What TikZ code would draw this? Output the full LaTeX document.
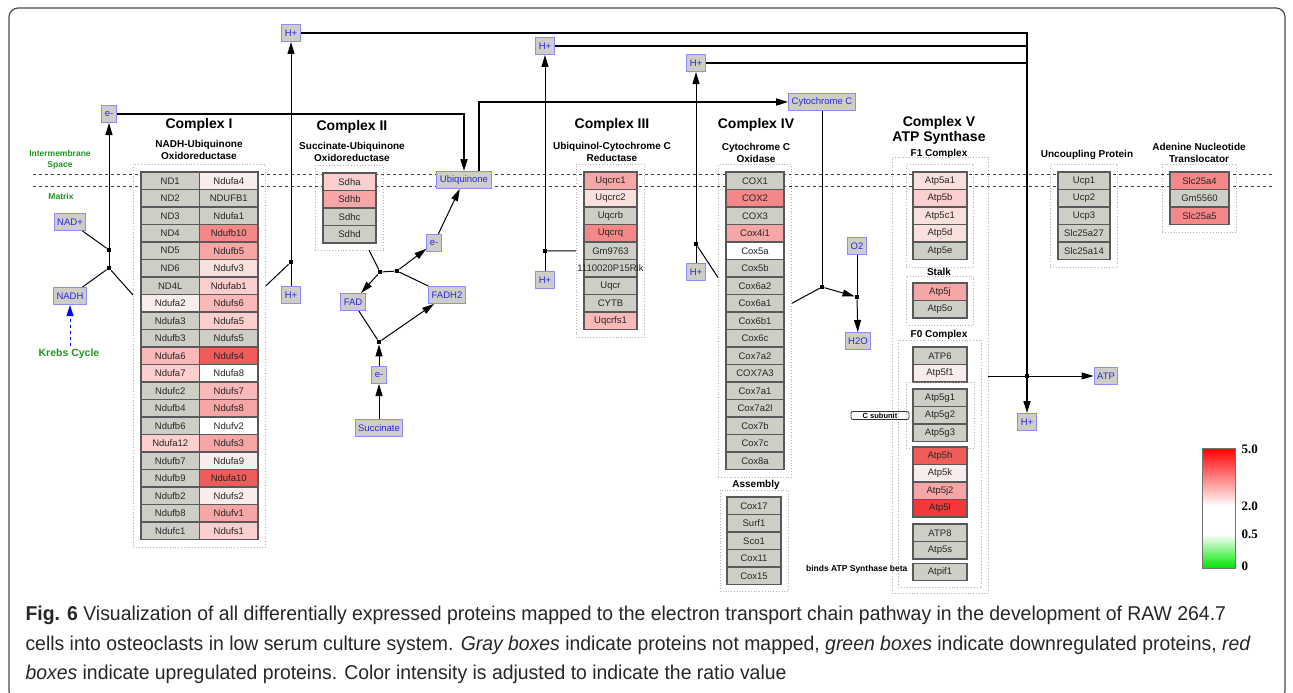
\documentclass[tikz,border=0pt]{standalone}
\usepackage{fontspec}
\setmainfont{Liberation Sans}
\newfontfamily\capfont[FakeStretch=0.97]{Liberation Sans}
\newfontfamily\numfont{Liberation Serif}
\usepackage{xcolor}
\usetikzlibrary{arrows.meta,fit,positioning}

\definecolor{cg}{RGB}{206,206,198}
\definecolor{r1}{RGB}{248,236,236}
\definecolor{r2}{RGB}{249,224,220}
\definecolor{r3}{RGB}{252,206,206}
\definecolor{r4}{RGB}{250,184,184}
\definecolor{r5}{RGB}{246,166,166}
\definecolor{r6}{RGB}{244,136,136}
\definecolor{r7}{RGB}{240,92,90}
\definecolor{r8}{RGB}{242,56,56}
\definecolor{zone}{RGB}{30,150,30}
\definecolor{metblue}{RGB}{40,40,225}

\tikzset{
  prot/.style={draw=black!65, line width=1.1pt, fill=cg, minimum height=17.5pt, inner sep=0pt,
    font=\fontsize{9.5}{10}\selectfont, text=black!85},
  met/.style={draw=blue!45, line width=1pt, fill=cg, text=metblue, inner xsep=3pt, inner ysep=0pt,
    minimum height=17pt, font=\fontsize{9.5}{10}\selectfont},
  grp/.style={draw=black!30, dotted, line width=0.8pt},
  jn/.style={fill=black, inner sep=0pt, minimum size=4.5pt},
  ttl/.style={font=\bfseries\fontsize{14}{15}\selectfont, align=center},
  sub/.style={font=\bfseries\fontsize{10}{12.5}\selectfont, align=center},
  zonelbl/.style={font=\bfseries\fontsize{8.5}{11}\selectfont, text=zone, align=center},
  arr/.style={-{Triangle[length=12pt,width=7pt]}},
  wire/.style={line width=1pt},
  bus/.style={line width=1.6pt},
  captxt/.style={anchor=base west, font=\capfont\fontsize{20}{22}\selectfont, text=black!85},
}

\begin{document}
\begin{tikzpicture}[x=1pt,y=-1pt]
\useasboundingbox (0,0) rectangle (1293,693);
\draw[black!70, line width=1.2pt, rounded corners=9pt] (9,8) rectangle (1285,700);

\draw[dashed, black!75, line width=0.8pt] (33,174) -- (1275,174);
\draw[dashed, black!75, line width=0.8pt] (33,186.5) -- (1275,186.5);

\node[zonelbl] (ims) at (60,160) {Intermembrane\\Space};
\node[zonelbl] (mtx) at (61,196) {Matrix};

% Complex I
\node[ttl] (t1) at (199,125) {Complex I};
\node[sub] (s1) at (199,150) {NADH-Ubiquinone\\Oxidoreductase};
\foreach \t/\c [count=\i] in {ND1/cg, ND2/cg, ND3/cg, ND4/cg, ND5/cg, ND6/cg, ND4L/cg, Ndufa2/r1,
    Ndufa3/cg, Ndufb3/cg, Ndufa6/r4, Ndufa7/r3, Ndufc2/cg, Ndufb4/cg, Ndufb6/cg, Ndufa12/r3,
    Ndufb7/cg, Ndufb9/cg, Ndufb2/cg, Ndufb8/cg, Ndufc1/cg}
  \node[prot, fill=\c, minimum width=58.5pt] (ci-a\i) at (170.25,{163.25+17.5*\i}) {\t};
\foreach \t/\c [count=\i] in {Ndufa4/r1, NDUFB1/cg, Ndufa1/cg, Ndufb10/r6, Ndufb5/r5, Ndufv3/r2,
    Ndufab1/r3, Ndufs6/r4, Ndufa5/r3, Ndufs5/cg, Ndufs4/r7, Ndufa8/white, Ndufs7/r4, Ndufs8/r5,
    Ndufv2/white, Ndufs3/r5, Ndufa9/r1, Ndufa10/r7, Ndufs2/r1, Ndufv1/r5, Ndufs1/r3}
  \node[prot, fill=\c, minimum width=58.5pt] (ci-b\i) at (228.75,{163.25+17.5*\i}) {\t};
\node[grp, fit=(ci-a1)(ci-b21), inner xsep=7pt, inner ysep=7pt] (cxI) {};

\node[met] (em1) at (109,114) {e-};
\node[met] (nadp) at (70,222) {NAD+};
\node[met] (nadh) at (70,296) {NADH};
\node[font=\bfseries\fontsize{10.5}{12}\selectfont, text=zone] (krebs) at (69,354) {Krebs Cycle};
\node[jn] (j1) at (109,250) {};
\node[jn] (j2) at (109,268) {};
\draw[wire, arr] (j2) -- (em1);
\draw[wire] (nadh) -- (j2);
\draw[wire] (nadp) -- (j1);
\draw[wire] (j2) -- (cxI.west |- ci-a7.south);
\draw[wire, dashed, blue, -{Triangle[length=11pt,width=7pt]}] (krebs.north -| nadh) -- (nadh);

\node[met] (hp1) at (291,33) {H+};
\node[met] (hp1b) at (291,295) {H+};
\node[jn] (j6) at (291,262) {};
\draw[wire, arr] (hp1b) -- (hp1);
\draw[wire] (cxI.east |- ci-b7) -- (j6);

% Complex II
\node[ttl] (t2) at (352,127) {Complex II};
\node[sub] (s2) at (352,152) {Succinate-Ubiquinone\\Oxidoreductase};
\foreach \t/\c [count=\i] in {Sdha/r3, Sdhb/r5, Sdhc/cg, Sdhd/cg}
  \node[prot, fill=\c, minimum width=53pt] (cii-\i) at (349.5,{164.25+17.5*\i}) {\t};
\node[grp, fit=(cii-1)(cii-4), inner sep=7pt] (cxII) {};

\node[met] (ubq) at (464,180) {Ubiquinone};
\node[met] (em2) at (434,243) {e-};
\node[met] (fad) at (353,302) {FAD};
\node[met] (fadh) at (447,295) {FADH2};
\node[met] (em3) at (379,375) {e-};
\node[met] (succ) at (379,428) {Succinate};
\coordinate (c2out) at (369,250);
\node[jn] (j3) at (380,272) {};
\node[jn] (j4) at (397,271) {};
\node[jn] (j5) at (379,342) {};
\draw[wire] (c2out) -- (j3);
\draw[wire, arr] (j3) -- (fad);
\draw[wire] (j3) -- (j4);
\draw[wire, arr] (j4) -- (em2);
\draw[wire] (j4) -- (fadh);
\draw[wire, arr] (em2) -- (ubq);
\draw[wire] (fad) -- (j5);
\draw[wire, arr] (j5) -- (fadh);
\draw[wire, arr] (em3) -- (j5);
\draw[wire, arr] (succ) -- (em3);

\node[met] (cytc) at (822,102) {Cytochrome C};
\draw[bus, arr] (em1) -| (ubq);
\draw[bus, arr] ([xshift=15pt]ubq.north) |- (cytc);

% Complex III
\node[ttl] (t3) at (612,125) {Complex III};
\node[sub] (s3) at (612,152) {Ubiquinol-Cytochrome C\\Reductase};
\foreach \t/\c [count=\i] in {Uqcrc1/r5, Uqcrc2/r2, Uqcrb/cg, Uqcrq/r6, Gm9763/cg,
    {\makebox[0pt]{1110020P15Rik}}/cg, Uqcr/cg, CYTB/cg, Uqcrfs1/r4}
  \node[prot, fill=\c, minimum width=53pt] (ciii-\i) at (610.5,{163.25+17.5*\i}) {\t};
\node[grp, fit=(ciii-1)(ciii-9), inner sep=7pt] (cxIII) {};

\node[met] (hp2) at (545,46) {H+};
\node[met] (hp2b) at (545,280) {H+};
\node[jn] (j9) at (545,251) {};
\draw[wire, arr] (hp2b) -- (hp2);
\draw[wire] (cxIII.west |- ciii-5) -- (j9);

% Complex IV
\node[ttl] (t4) at (756,125) {Complex IV};
\node[sub] (s4) at (756,153) {Cytochrome C\\Oxidase};
\foreach \t/\c [count=\i] in {COX1/cg, COX2/r6, COX3/cg, Cox4i1/r5, Cox5a/white, Cox5b/cg,
    Cox6a2/cg, Cox6a1/cg, Cox6b1/cg, Cox6c/cg, Cox7a2/cg, COX7A3/cg, Cox7a1/cg, Cox7a2l/cg,
    Cox7b/cg, Cox7c/cg, Cox8a/cg}
  \node[prot, fill=\c, minimum width=58pt] (civ-\i) at (755,{163.25+17.5*\i}) {\t};
\node[grp, fit=(civ-1)(civ-17), inner sep=7pt] (cxIV) {};

\node[sub] (s4b) at (756,485) {Assembly};
\foreach \t [count=\i] in {Cox17, Surf1, Sco1, Cox11, Cox15}
  \node[prot, minimum width=54pt] (asm-\i) at (754,{488.25+17.5*\i}) {\t};
\node[grp, fit=(asm-1)(asm-5), inner sep=6.5pt] (cxAsm) {};

\node[met] (hp3) at (696,63) {H+};
\node[met] (hp3b) at (696,272) {H+};
\node[jn] (j10) at (696,244) {};
\draw[wire, arr] (hp3b) -- (hp3);
\draw[wire] (cxIV.west |- civ-6.south) -- (j10);

\node[met] (o2) at (857,246) {O2};
\node[met] (h2o) at (858,341) {H2O};
\node[jn] (j7) at (822,287) {};
\node[jn] (j8) at (857,297) {};
\draw[wire] (cytc) -- (j7);
\draw[wire] (cxIV.east |- civ-8) -- (j7);
\draw[wire, arr] (j7) -- (j8);
\draw[wire] (o2) -- (j8);
\draw[wire, arr] (j8) -- (h2o);

% Complex V
\node[ttl] (t5) at (939,130) {Complex V\\ATP Synthase};
\node[sub] (s5a) at (939,154) {F1 Complex};
\foreach \t/\c [count=\i] in {Atp5a1/r2, Atp5b/r3, Atp5c1/r2, Atp5d/r2, Atp5e/cg}
  \node[prot, fill=\c, minimum width=54pt] (f1-\i) at (940,{163.25+17.5*\i}) {\t};
\node[grp, fit=(f1-1)(f1-5), inner xsep=6pt, inner ysep=7pt] (cxF1) {};

\node[sub] (s5b) at (939,272) {Stalk};
\foreach \t/\c [count=\i] in {Atp5j/r5, Atp5o/cg}
  \node[prot, fill=\c, minimum width=54pt] (stk-\i) at (940,{274.25+17.5*\i}) {\t};
\node[grp, fit=(stk-1)(stk-2), inner xsep=6pt, inner ysep=6.5pt] (cxStk) {};

\node[sub] (s5c) at (939,335) {F0 Complex};
\foreach \t/\c [count=\i] in {ATP6/cg, Atp5f1/r1}
  \node[prot, fill=\c, minimum width=54pt] (f0a-\i) at (940,{338.25+17.5*\i}) {\t};
\foreach \t [count=\i] in {Atp5g1, Atp5g2, Atp5g3}
  \node[prot, minimum width=54pt] (f0g-\i) at (940,{380.25+17.5*\i}) {\t};
\node[grp, fit=(f0g-1)(f0g-3), inner xsep=6.5pt, inner ysep=6.5pt] (cxG) {};
\foreach \t/\c [count=\i] in {Atp5h/r7, Atp5k/r1, Atp5j2/r5, Atp5l/r8}
  \node[prot, fill=\c, minimum width=54pt] (f0b-\i) at (940,{438.25+17.5*\i}) {\t};
\foreach \t [count=\i] in {ATP8, Atp5s}
  \node[prot, minimum width=54pt] (f0c-\i) at (940,{515.25+17.5*\i}) {\t};
\node[prot, minimum width=54pt] (f0d-1) at (940,572) {Atpif1};
\node[grp, fit=(f0a-1)(f0d-1), inner xsep=14pt, inner ysep=6.5pt] (cxF0) {};
\node[grp, fit={(892,157) (988,593)}, inner sep=0pt] (cxV) {};

\node[draw=black!80, line width=0.8pt, rounded corners=2pt, minimum width=58pt, minimum height=8pt,
  inner sep=0pt, font=\bfseries\fontsize{7.5}{8}\selectfont] (csub) at (880,415.5) {C subunit};
\node[anchor=east, font=\bfseries\fontsize{8.5}{10}\selectfont] (bind) at (911,569) {binds ATP Synthase beta};

\node[met] (atp) at (1106,376) {ATP};
\node[met] (hp4) at (1027,422) {H+};
\node[jn] (jatp) at (1027,376) {};
\draw[bus] (hp1) -| (jatp);
\draw[bus] (hp2) -- (hp2 -| jatp);
\draw[bus] (hp3) -- (hp3 -| jatp);
\draw[bus, arr] (jatp) -- (hp4);
\draw[wire, arr] (cxV.east |- jatp) -- (atp);

% Uncoupling protein and translocator
\node[sub] (s6) at (1087,155) {Uncoupling Protein};
\foreach \t [count=\i] in {Ucp1, Ucp2, Ucp3, Slc25a27, Slc25a14}
  \node[prot, minimum width=52pt] (ucp-\i) at (1084,{163.25+17.5*\i}) {\t};
\node[grp, fit=(ucp-1)(ucp-5), inner sep=7pt] (cxUcp) {};

\node[sub] (s7) at (1199,153) {Adenine Nucleotide\\Translocator};
\foreach \t/\c [count=\i] in {Slc25a4/r6, Gm5560/cg, Slc25a5/r6}
  \node[prot, fill=\c, minimum width=59pt] (ant-\i) at (1199.5,{163.25+17.5*\i}) {\t};
\node[grp, fit=(ant-1)(ant-3), inner sep=7pt] (cxAnt) {};

% legend
\shade[top color=red, bottom color=white] (1202,448) rectangle (1235,506);
\fill[white] (1202,506) rectangle (1235,534);
\shade[top color=white, bottom color=green!90!black] (1202,534) rectangle (1235,568);
\draw[black!55, line width=0.8pt] (1202,448) rectangle (1235,568);
\foreach \v/\y in {5.0/449, 2.0/506, 0.5/534, 0/566}
  \node[anchor=west, font=\numfont\bfseries\fontsize{13}{14}\selectfont] (lg\y) at (1238,\y) {\v};

% caption
\node[captxt] (cap1) at (22,620)
  {\textbf{Fig. 6} Visualization of all differentially expressed proteins mapped to the electron transport chain pathway in the development of RAW 264.7};
\node[captxt] (cap2) at (22,650)
  {cells into osteoclasts in low serum culture system. \textit{Gray boxes} indicate proteins not mapped, \textit{green boxes} indicate downregulated proteins, \textit{red}};
\node[captxt] (cap3) at (22,679)
  {\textit{boxes} indicate upregulated proteins. Color intensity is adjusted to indicate the ratio value};
\end{tikzpicture}
\end{document}
